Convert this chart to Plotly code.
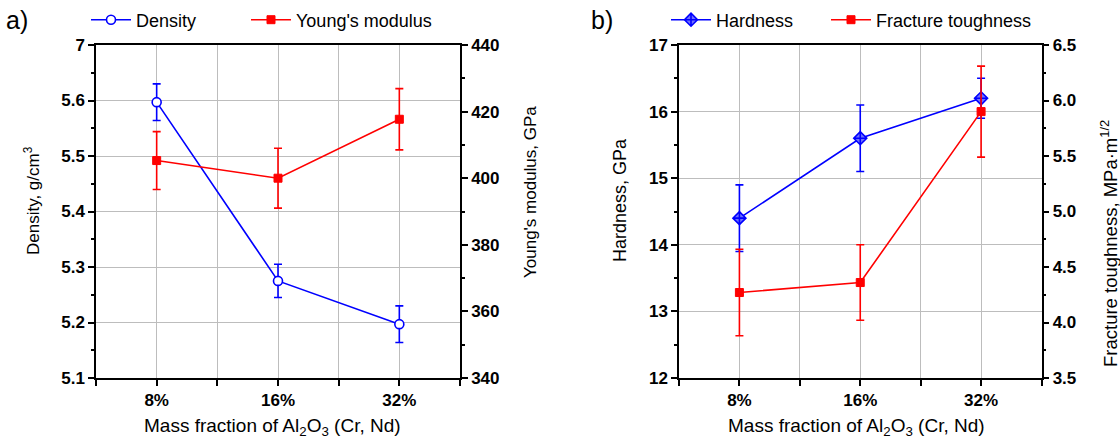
import plotly.graph_objects as go

# ---------------- data ----------------
categories = ["8%", "16%", "32%"]

density = [5.597, 5.275, 5.197]
density_err = [0.033, 0.030, 0.033]
youngs_modulus = [405.3, 400.0, 417.7]
youngs_modulus_err = [8.7, 9.0, 9.2]

hardness = [14.4, 15.6, 16.2]
hardness_err = [0.5, 0.5, 0.3]
fracture_toughness = [4.27, 4.36, 5.90]
fracture_toughness_err = [0.39, 0.34, 0.41]

density_tickvals = [5.1, 5.2, 5.3, 5.4, 5.5, 5.6, 5.7]
density_ticktext = ["5.1", "5.2", "5.3", "5.4", "5.5", "5.6", "7"]

x_pos = list(range(len(categories)))

BLUE = "#0000ff"
RED = "#ff0000"
GRID = "#bdbdbd"
FONT = "Liberation Sans, Arial, sans-serif"

fig = go.Figure()

fig.add_trace(go.Scatter(
    x=x_pos, y=density, name="Density", mode="lines+markers",
    line=dict(color=BLUE, width=1.6),
    marker=dict(symbol="circle", size=9, color="white", line=dict(color=BLUE, width=1.6)),
    error_y=dict(type="data", array=density_err, color=BLUE, thickness=1.6, width=4),
    xaxis="x", yaxis="y", legend="legend"))

fig.add_trace(go.Scatter(
    x=x_pos, y=youngs_modulus, name="Young's modulus", mode="lines+markers",
    line=dict(color=RED, width=1.6),
    marker=dict(symbol="square", size=8, color=RED, line=dict(color=RED, width=1)),
    error_y=dict(type="data", array=youngs_modulus_err, color=RED, thickness=1.6, width=4),
    xaxis="x", yaxis="y2", legend="legend2"))

fig.add_trace(go.Scatter(
    x=x_pos, y=hardness, name="Hardness", mode="lines+markers",
    line=dict(color=BLUE, width=1.6),
    marker=dict(symbol="diamond-cross", size=10, color="#6f6fff", line=dict(color=BLUE, width=1.6)),
    error_y=dict(type="data", array=hardness_err, color=BLUE, thickness=1.6, width=4),
    xaxis="x2", yaxis="y3", legend="legend3"))

fig.add_trace(go.Scatter(
    x=x_pos, y=fracture_toughness, name="Fracture toughness", mode="lines+markers",
    line=dict(color=RED, width=1.6),
    marker=dict(symbol="square", size=8, color=RED, line=dict(color=RED, width=1)),
    error_y=dict(type="data", array=fracture_toughness_err, color=RED, thickness=1.6, width=4),
    xaxis="x2", yaxis="y4", legend="legend4"))

W, H = 1120, 441
ydom = [1 - 378 / H, 1 - 45 / H]
xdom_a = [96 / W, 460 / W]
xdom_b = [679 / W, 1041.5 / W]

TICKFONT = dict(family=FONT, size=17, color="black", weight="bold")

common_axis = dict(
    showline=True, linecolor="black", linewidth=1.5,
    ticks="outside", ticklen=6, tickwidth=1.5, tickcolor="black",
    tickfont=TICKFONT, zeroline=False, automargin=False,
)

def xaxis_def(domain, anchor):
    return dict(
        common_axis, domain=domain, anchor=anchor, range=[-0.5, 2.5],
        tickmode="array", tickvals=x_pos, ticktext=categories,
        mirror=True, showgrid=True, gridcolor=GRID, gridwidth=1,
        minor=dict(tick0=0, dtick=0.5, ticks="outside", ticklen=6, tickwidth=1.5,
                   tickcolor="black", showgrid=True, gridcolor=GRID, gridwidth=1),
    )

def yaxis_left(domain, anchor, rng, **kw):
    d = dict(common_axis, domain=domain, anchor=anchor, range=rng, side="left",
             showgrid=True, gridcolor=GRID, gridwidth=1)
    d.update(kw)
    return d

def yaxis_right(overlay, anchor, rng, **kw):
    d = dict(common_axis, overlaying=overlay, anchor=anchor, range=rng, side="right",
             showgrid=False)
    d.update(kw)
    return d

def legend_at(x_px):
    return dict(orientation="h", x=x_px / W, y=1 - 20 / H, xanchor="left", yanchor="middle",
                font=dict(family=FONT, size=18, color="black"), bgcolor="rgba(0,0,0,0)",
                itemwidth=40)

fig.update_layout(
    width=W, height=H,
    margin=dict(l=0, r=0, t=0, b=0, autoexpand=False),
    paper_bgcolor="white", plot_bgcolor="white",
    font=dict(family=FONT, color="black"),
    showlegend=True,
    xaxis=xaxis_def(xdom_a, "y"),
    yaxis=yaxis_left(ydom, "x", [5.1, 5.7], tickmode="array",
                     tickvals=density_tickvals, ticktext=density_ticktext,
                     minor=dict(tick0=5.1, dtick=0.05, ticks="outside", ticklen=3,
                                tickwidth=1.5, tickcolor="black", showgrid=False)),
    yaxis2=yaxis_right("y", "x", [340, 440], tick0=340, dtick=20,
                       minor=dict(tick0=340, dtick=10, ticks="outside", ticklen=3,
                                  tickwidth=1.5, tickcolor="black", showgrid=False)),
    xaxis2=xaxis_def(xdom_b, "y3"),
    yaxis3=yaxis_left(ydom, "x2", [12, 17], tick0=12, dtick=1,
                      minor=dict(tick0=12, dtick=0.5, ticks="outside", ticklen=3,
                                 tickwidth=1.5, tickcolor="black", showgrid=False)),
    yaxis4=yaxis_right("y3", "x2", [3.5, 6.5], tick0=3.5, dtick=0.5, tickformat=".1f",
                       minor=dict(tick0=3.5, dtick=0.25, ticks="outside", ticklen=3,
                                  tickwidth=1.5, tickcolor="black", showgrid=False)),
    legend=legend_at(86),
    legend2=legend_at(246),
    legend3=legend_at(666),
    legend4=legend_at(826),
)

ytitle_font = dict(family=FONT, size=17, color="black")
xtitle_font = dict(family=FONT, size=19, color="black")
annotations = [
    dict(text="a)", x=4 / W, y=1 - 20 / H, xanchor="left", yanchor="middle",
         font=dict(family=FONT, size=25, color="black")),
    dict(text="b)", x=589 / W, y=1 - 20 / H, xanchor="left", yanchor="middle",
         font=dict(family=FONT, size=25, color="black")),
    dict(text="Density, g/cm<sup>3</sup>", x=32 / W, y=1 - 201 / H, textangle=-90,
         xanchor="center", yanchor="middle", font=ytitle_font),
    dict(text="Young's modulus, GPa", x=530 / W, y=1 - 192 / H, textangle=-90,
         xanchor="center", yanchor="middle", font=ytitle_font),
    dict(text="Hardness, GPa", x=620 / W, y=1 - 200 / H, textangle=-90,
         xanchor="center", yanchor="middle", font=dict(family=FONT, size=18, color="black")),
    dict(text="Fracture toughness, MPa·m<sup>1/2</sup>", x=1109 / W, y=1 - 244 / H, textangle=-90,
         xanchor="center", yanchor="middle", font=dict(family=FONT, size=18.5, color="black")),
    dict(text="Mass fraction of Al<sub>2</sub>O<sub>3</sub> (Cr, Nd)", x=272 / W, y=1 - 427 / H,
         xanchor="center", yanchor="middle", font=xtitle_font),
    dict(text="Mass fraction of Al<sub>2</sub>O<sub>3</sub> (Cr, Nd)", x=856 / W, y=1 - 427 / H,
         xanchor="center", yanchor="middle", font=xtitle_font),
]
for a in annotations:
    a.update(xref="paper", yref="paper", showarrow=False)
fig.update_layout(annotations=annotations)

fig.write_html("out.html", config={"displayModeBar": False},
               post_script="document.body.style.margin='0';document.body.style.overflow='hidden';")
